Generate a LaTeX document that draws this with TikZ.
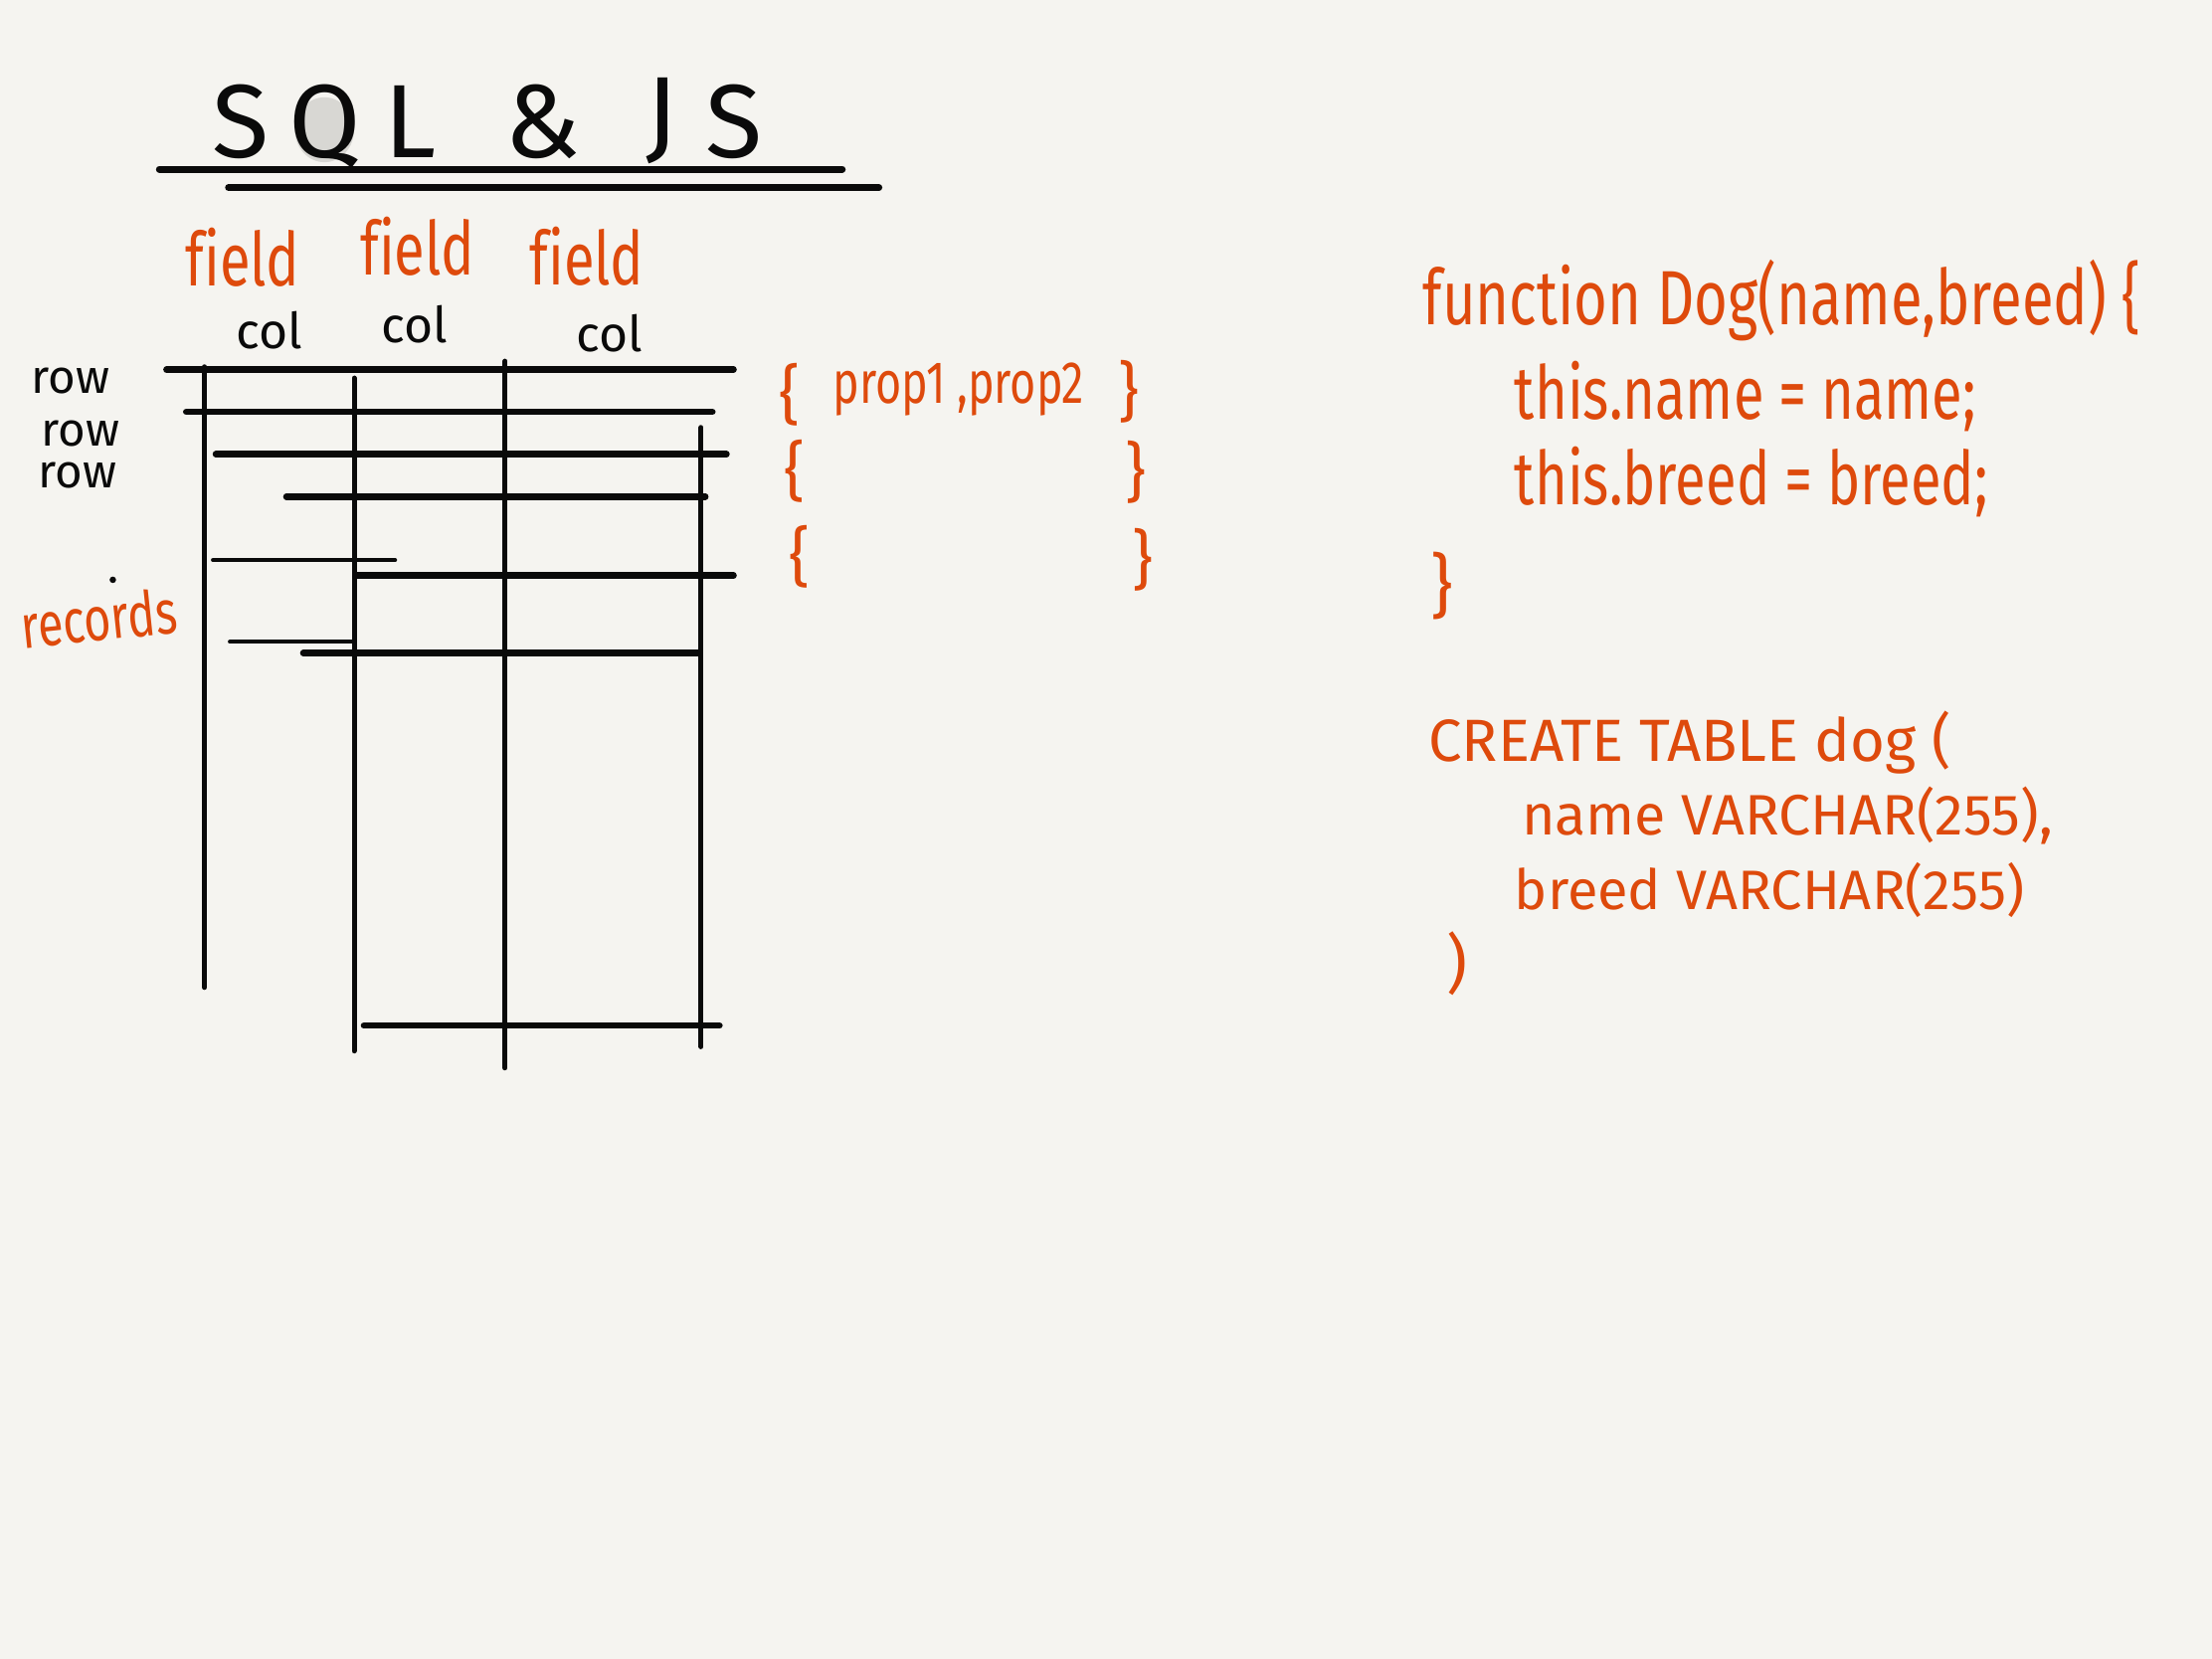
\documentclass[tikz,border=0pt]{standalone}
\usepackage{fontspec}
\setmainfont{Fira Sans}
\newfontfamily\handfont[Ligatures=NoCommon]{Fira Sans}
\newfontfamily\narrowfont[FakeStretch=0.75,Ligatures=NoCommon]{Fira Sans}
\definecolor{bg}{HTML}{F5F4F0}
\definecolor{ink}{HTML}{0A0A0A}
\definecolor{orng}{HTML}{DE4A0C}
\definecolor{qgrey}{HTML}{D8D7D3}
\tikzset{
  titletxt/.style={inner sep=0pt, text=ink, font=\handfont\fontsize{21}{21}\selectfont},
  fieldtxt/.style={inner sep=0pt, text=orng, anchor=base, font=\narrowfont\fontsize{15}{15}\selectfont},
  coltxt/.style={inner sep=0pt, text=ink, anchor=base, font=\handfont\fontsize{10}{10}\selectfont},
  rowtxt/.style={inner sep=0pt, text=ink, anchor=base, font=\handfont\fontsize{9.5}{9.5}\selectfont},
  bracetxt/.style={inner sep=0pt, text=orng, font=\handfont\fontsize{13}{13}\selectfont},
  proptxt/.style={inner sep=0pt, text=orng, anchor=base west, font=\narrowfont\fontsize{12}{12}\selectfont},
  jscode/.style={inner sep=0pt, text=orng, anchor=base west, font=\narrowfont\fontsize{15.5}{16}\selectfont},
  sqlcode/.style={inner sep=0pt, text=orng, anchor=base west, font=\handfont\fontsize{11.5}{12}\selectfont},
  uline/.style={draw=ink, line width=1.4pt, line cap=round},
  gthick/.style={draw=ink, line width=1.3pt, line cap=round},
  gthin/.style={draw=ink, line width=0.85pt, line cap=round},
  gvert/.style={draw=ink, line width=1.0pt, line cap=round}
}
\begin{document}
\begin{tikzpicture}[x=0.01cm,y=-0.01cm]
\fill[bg] (0,0) rectangle (1568,1176);
\useasboundingbox (0,0) rectangle (1568,1176);

% title
\fill[qgrey] (230,92) ellipse (21 and 23);
\node[titletxt] (tS1) at (171,86) {S};
\node[titletxt] (tQ) at (230,90) {Q};
\node[titletxt] (tL) at (291,86) {L};
\node[titletxt] (tamp) at (385,86) {\&};
\node[titletxt] (tJ) at (469,86) {J};
\node[titletxt] (tS2) at (520,86) {S};
\draw[uline] (113,120) -- (597,120);
\draw[uline] (162,133) -- (623,133);

% field / col labels
\node[fieldtxt] (f1) at (172,203) {field};
\node[fieldtxt] (f2) at (296,195) {field};
\node[fieldtxt] (f3) at (416,202) {field};
\node[coltxt] (c1) at (191,247) {col};
\node[coltxt] (c2) at (294,243) {col};
\node[coltxt] (c3) at (432,249) {col};

% row labels
\node[rowtxt] (r1) at (50,279) {row};
\node[rowtxt] (r2) at (57,316) {row};
\node[rowtxt] (r3) at (55,346) {row};
\node[inner sep=0pt, text=orng, font=\narrowfont\fontsize{12.5}{12.5}\selectfont, rotate=6] (rec) at (70,438) {records};
\fill[ink] (80,411) circle (2.3);

% table lines
\draw[gthick] (118,262) -- (520,262);
\draw[gthick] (132,292) -- (505,292);
\draw[gthick] (153,322) -- (515,322);
\draw[gthick] (203,352) -- (500,352);
\draw[gthin] (151,397) -- (280,397);
\draw[gthick] (253,408) -- (520,408);
\draw[gthin] (163,455) -- (250,455);
\draw[gthick] (215,463) -- (495,463);
\draw[gthick] (258,727) -- (510,727);
\draw[gvert] (145,260) -- (145,700);
\draw[gvert] (251,268) -- (251,745);
\draw[gvert] (358,256) -- (358,757);
\draw[gvert] (497,303) -- (497,742);

% object braces
\node[bracetxt] (bl1) at (560,280) {\{};
\node[proptxt] (props) at (590,286) {prop1 ,prop2};
\node[bracetxt] (br1) at (800,278) {\}};
\node[bracetxt] (bl2) at (563,334) {\{};
\node[bracetxt] (br2) at (805,335) {\}};
\node[bracetxt] (bl3) at (567,395) {\{};
\node[bracetxt] (br3) at (810,397) {\}};

% JS code
\node[jscode] (js1) at (1008,230) {function Dog(name,breed) \{};
\node[jscode, font=\narrowfont\fontsize{15}{15}\selectfont] (js2) at (1073,297) {this.name = name;};
\node[jscode, font=\narrowfont\fontsize{15}{15}\selectfont] (js3) at (1073,358) {this.breed = breed;};
\node[bracetxt, font=\handfont\fontsize{14}{14}\selectfont] (js4) at (1022,415) {\}};

% SQL code
\node[sqlcode, font=\handfont\fontsize{12}{12}\selectfont] (sq1) at (1012,540) {CREATE TABLE dog (};
\node[sqlcode] (sq2) at (1078,592) {name VARCHAR(255),};
\node[sqlcode, font=\handfont\fontsize{11.2}{12}\selectfont] (sq3) at (1073,645) {breed VARCHAR(255)};
\node[bracetxt] (sq4) at (1033,683) {)};
\end{tikzpicture}
\end{document}
